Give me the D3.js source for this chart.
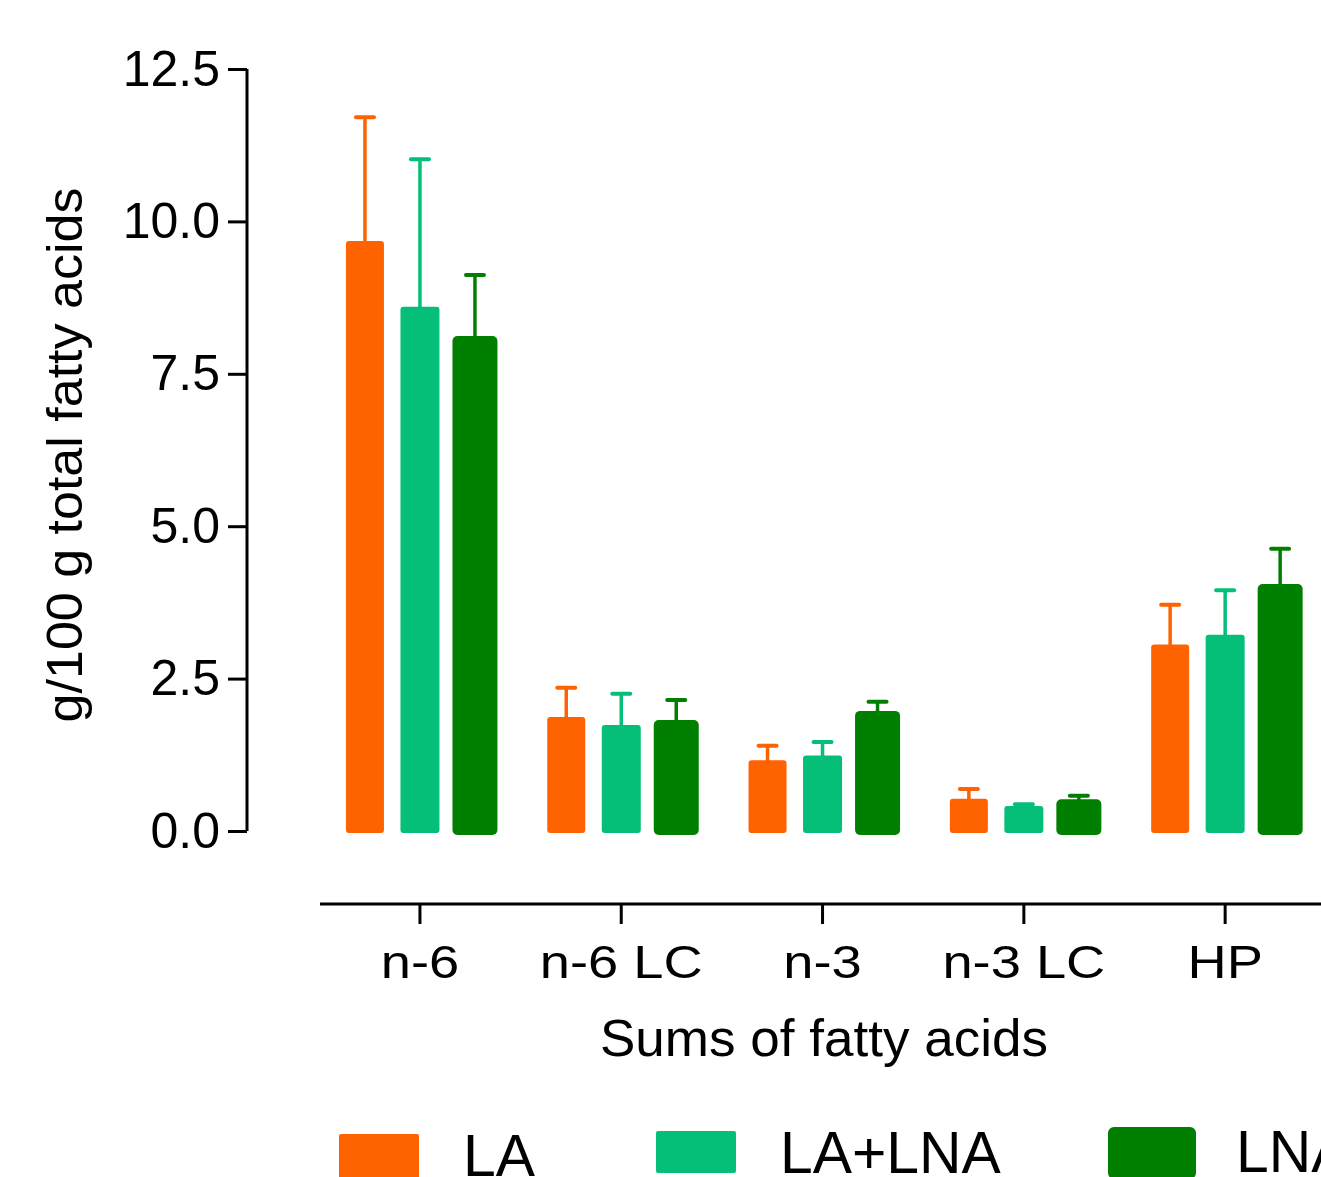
<!DOCTYPE html>
<html>
<head>
<meta charset="utf-8">
<script src="https://cdn.jsdelivr.net/npm/d3@7"></script>
<style>
  html, body { margin: 0; padding: 0; background: #fff; overflow: hidden; }
  svg { display: block; font-family: "Liberation Sans", Arial, sans-serif; }
</style>
</head>
<body>
<svg id="chart" width="1321" height="1177"></svg>
<script>
// ---- data ----
const categories = ["n-6", "n-6 LC", "n-3", "n-3 LC", "HP"];
const seriesNames = ["LA", "LA+LNA", "LNA"];
const laMean     = [9.68, 1.87, 1.16, 0.53, 3.06];
const laSD       = [2.03, 0.48, 0.24, 0.16, 0.65];
const lalnaMean  = [8.60, 1.74, 1.24, 0.41, 3.22];
const lalnaSD    = [2.42, 0.51, 0.22, 0.03, 0.73];
const lnaMean    = [8.12, 1.82, 1.97, 0.52, 4.05];
const lnaSD      = [1.00, 0.33, 0.15, 0.06, 0.58];
const yTicks     = [0, 2.5, 5, 7.5, 10, 12.5];
const colors     = ["#ff6200", "#05bf78", "#007f00"];

const means = [laMean, lalnaMean, lnaMean];
const sds = [laSD, lalnaSD, lnaSD];

function stretch(sel, factor) {
  sel.each(function () {
    const len = this.getComputedTextLength();
    d3.select(this).attr("textLength", len * factor).attr("lengthAdjust", "spacingAndGlyphs");
  });
}

// ---- layout ----
const svg = d3.select("#chart");
const yAxisX = 247;
const y = d3.scaleLinear().domain([0, 12.5]).range([831, 69]);
const x = d3.scaleBand().domain(categories).range([319.3, 1325.8]).padding(0);
const inner = d3.scaleBand().domain(seriesNames).range([-82.5, 82.5]).padding(0);
const barW = [38, 39, 45];
const barBottom = [833, 833, 835];

// ---- y axis ----
const yAxis = svg.append("g")
  .attr("transform", `translate(${yAxisX},0)`)
  .call(d3.axisLeft(y).tickValues(yTicks).tickFormat(d3.format(".1f")).tickSize(19).tickPadding(8));
yAxis.select(".domain").attr("stroke", "#000").attr("stroke-width", 3).attr("d", `M0,${y(12.5)}V${y(0)}`);
yAxis.selectAll(".tick line").attr("stroke", "#000").attr("stroke-width", 3);
yAxis.selectAll(".tick text").attr("font-size", 50).attr("fill", "#000")
  .attr("font-family", "Liberation Sans, Arial, sans-serif");

const yTitle = svg.append("text")
  .attr("transform", "translate(82,455) rotate(-90)")
  .attr("text-anchor", "middle")
  .attr("font-size", 50)
  .text("g/100 g total fatty acids");
stretch(yTitle, 1.04);

// ---- x axis ----
const xAxis = svg.append("g")
  .attr("transform", "translate(0,904)")
  .call(d3.axisBottom(x).tickSize(20).tickSizeOuter(0).tickPadding(21));
xAxis.select(".domain").attr("stroke", "#000").attr("stroke-width", 3).attr("d", "M320,0H1325");
xAxis.selectAll(".tick line").attr("stroke", "#000").attr("stroke-width", 3);
xAxis.selectAll(".tick text").attr("font-size", 46).attr("fill", "#000")
  .attr("font-family", "Liberation Sans, Arial, sans-serif");
stretch(xAxis.selectAll(".tick text"), 1.18);

const xTitle = svg.append("text")
  .attr("x", 824).attr("y", 1056)
  .attr("text-anchor", "middle")
  .attr("font-size", 52)
  .text("Sums of fatty acids");
stretch(xTitle, 1.02);

// ---- bars ----
seriesNames.forEach((s, si) => {
  const g = svg.append("g");
  categories.forEach((c, ci) => {
    const cx = x(c) + x.bandwidth() / 2 + inner(s) + inner.bandwidth() / 2;
    const v = means[si][ci];
    const top = y(v + sds[si][ci]);
    // error bar
    g.append("line")
      .attr("x1", cx).attr("x2", cx)
      .attr("y1", y(v) + 2).attr("y2", top)
      .attr("stroke", colors[si]).attr("stroke-width", 3.5);
    g.append("line")
      .attr("x1", cx - 9).attr("x2", cx + 9)
      .attr("y1", top).attr("y2", top)
      .attr("stroke", colors[si]).attr("stroke-width", 4)
      .attr("stroke-linecap", "round");
    // bar
    g.append("rect")
      .attr("x", cx - barW[si] / 2)
      .attr("width", barW[si])
      .attr("y", y(v))
      .attr("height", barBottom[si] - y(v))
      .attr("rx", si === 2 ? 5 : 3)
      .attr("fill", colors[si]);
  });
});

// ---- legend ----
const legX = [339, 656, 1108];
const legW = [80, 80, 88];
const legTop = [1134, 1131, 1127];
const legTextX = [463, 780, 1236];
const legBase = [1176, 1173, 1172];
seriesNames.forEach((s, i) => {
  svg.append("rect")
    .attr("x", legX[i]).attr("y", legTop[i])
    .attr("width", legW[i]).attr("height", i === 1 ? 42 : 52)
    .attr("rx", i === 2 ? 6 : 2)
    .attr("fill", colors[i]);
  const t = svg.append("text")
    .attr("x", legTextX[i]).attr("y", legBase[i])
    .attr("font-size", 60)
    .text(s);
  stretch(t, 0.98);
});
</script>
</body>
</html>
